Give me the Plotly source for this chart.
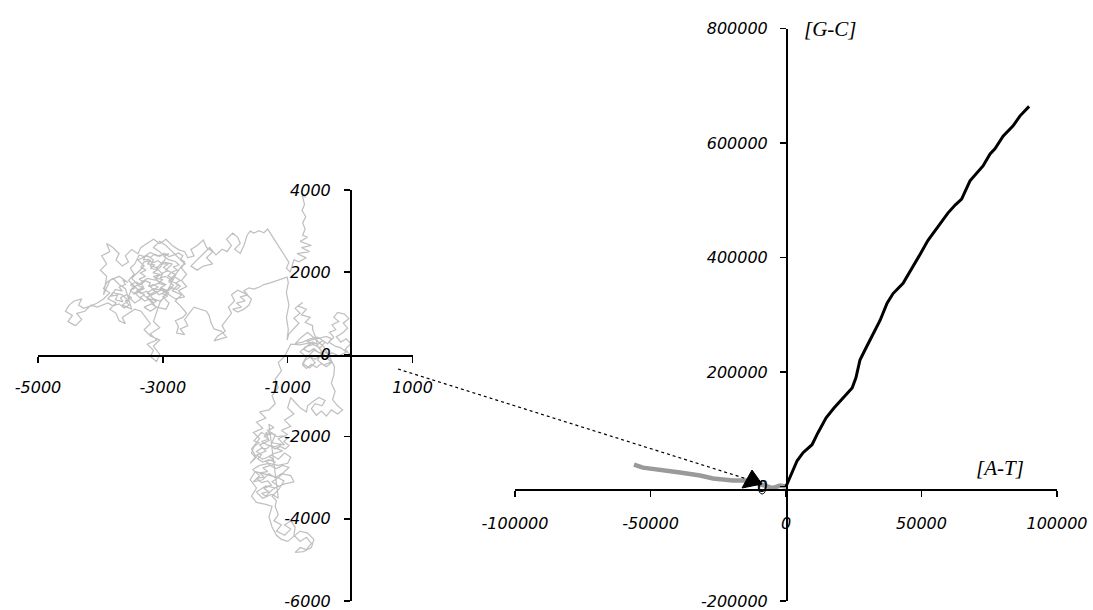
import plotly.graph_objects as go

# ---------------- data: left panel (zoomed DNA walk) ----------------
seg_origin = [(0,0),(-80,120),(10,260),(-60,380),(-150,300),(-220,430),(-120,520),(-40,640),(-110,760),(-20,870),
              (-90,980),(-200,1020),(-260,900),(-180,800),(-290,720),(-230,600),(-330,540),(-260,420),(-340,300),
              (-240,200),(-150,160),(-60,60),(-180,-40),(-290,40),(-390,-60),(-300,-180),(-420,-260),(-520,-140),
              (-460,20),(-580,100),(-660,-30),(-560,-200),(-650,-330),(-760,-220),(-700,-60),(-800,60),(-720,180),
              (-600,240),(-480,160),(-400,300),(-520,420),(-640,380),(-760,300),(-880,260),(-780,420),(-680,540),
              (-560,380),(-420,180),(-330,-60),(-250,-300)]
seg_down = [(-260,-500),(-300,-700),(-240,-900),(-280,-1100),(-200,-1250),(-120,-1350),(-200,-1450),(-300,-1350),
            (-380,-1500),(-460,-1380),(-540,-1480),(-620,-1320),(-560,-1200),(-450,-1250),(-400,-1120),(-500,-1050),
            (-600,-1150),(-680,-1250),(-700,-1400),(-800,-1300),(-860,-1200),(-950,-1050)]
seg_lower = [(-1000,-1300),(-900,-1450),(-1050,-1600),(-950,-1750),(-1100,-1850),(-1000,-1950),(-1150,-2050),
             (-1050,-2200),(-1250,-2150),(-1200,-1950),(-1350,-1900),(-1300,-2100),(-1450,-2200),(-1350,-2350),
             (-1500,-2450),(-1400,-2550),(-1250,-2450),(-1150,-2550),(-1050,-2400),(-950,-2500),(-1000,-2650),
             (-1150,-2700),(-1300,-2650),(-1450,-2700),(-1560,-2800),(-1450,-2950),(-1550,-3100),(-1400,-3050),
             (-1300,-2900),(-1200,-3000),(-1100,-2900),(-950,-2950),(-900,-3100),(-1050,-3150),(-1200,-3250),
             (-1350,-3200),(-1500,-3350),(-1400,-3500),(-1250,-3400),(-1150,-3500)]
seg_lower2 = [(-1300,-1700),(-1220,-1780),(-1330,-1850),(-1250,-1930),(-1380,-1990),(-1300,-2060),(-1420,-2120),
              (-1330,-2200),(-1200,-2250),(-1100,-2180),(-1160,-2300),(-1080,-2350),(-1200,-2400),(-1300,-2480),
              (-1220,-2560),(-1350,-2600),(-1280,-2700),(-1400,-2760),(-1320,-2850),(-1450,-2880),(-1380,-2980),
              (-1500,-3020),(-1420,-3120),(-1320,-3080),(-1260,-3180),(-1380,-3260),(-1300,-3340),(-1420,-3380),
              (-1350,-3450),(-1250,-3300),(-1150,-3200),(-1250,-3100),(-1150,-3000),(-1060,-3080),(-1140,-3280),
              (-1250,-3450),(-1180,-3560)]
seg_bottom = [(-1200,-3700),(-1150,-3900),(-1220,-4050),(-1100,-4150),(-1180,-4300),(-1050,-4400),(-950,-4250),
              (-1050,-4150),(-950,-4050),(-880,-4200),(-900,-4400),(-800,-4550),(-700,-4450),(-620,-4600),
              (-700,-4750),(-800,-4700),(-880,-4820),(-750,-4800),(-620,-4700),(-580,-4500),(-680,-4350),
              (-800,-4300),(-920,-4450),(-1000,-4550),(-1100,-4500),(-1180,-4400),(-1250,-4200),(-1300,-3950),
              (-1250,-3700),(-1350,-3650)]
seg_return_a = [(-1500,-3600),(-1580,-3450),(-1500,-3250),(-1600,-3050),(-1520,-2850)]
seg_lower3 = [(-1150,-3000),(-1050,-2850),(-980,-2750),(-1080,-2700),(-1180,-2780),(-1260,-2720),(-1200,-2620),
              (-1300,-2560),(-1400,-2620),(-1480,-2540),(-1420,-2440),(-1500,-2360),(-1420,-2280),(-1340,-2300),
              (-1280,-2220),(-1200,-2300),(-1120,-2240),(-1040,-2300),(-980,-2220),(-1060,-2120),(-1000,-2040),
              (-1080,-1980),(-1180,-2000),(-1260,-1900),(-1340,-1960),(-1420,-1900),(-1480,-2000),(-1540,-2100),
              (-1460,-2150),(-1540,-2250),(-1580,-2400),(-1520,-2500)]
seg_return_b = [(-1600,-2650),(-1500,-2500),(-1580,-2300),(-1450,-2050),(-1550,-1900),(-1400,-1800),(-1500,-1650),
                (-1350,-1550),(-1450,-1400),(-1300,-1350),(-1200,-1200),(-1250,-1000),(-1150,-800),(-1200,-600),
                (-1100,-400),(-1150,-200),(-1050,-50),(-1000,100),(-950,250),(-800,230),(-650,280),(-560,260),
                (-700,320)]
seg_origin2 = [(-380,440),(-300,380),(-360,260),(-440,340),(-520,240),(-600,300),(-680,220),(-740,120),(-660,60),
               (-580,140),(-500,40),(-420,80),(-340,-20),(-400,-120),(-480,-40),(-560,-120),(-640,-60),(-720,-140),
               (-760,-260),(-700,-340),(-620,-240),(-540,-320),(-460,-220),(-380,-300),(-300,-200),(-420,0),
               (-520,200),(-560,450),(-600,600)]
seg_o1 = [(-600,700),(-720,780),(-640,900),(-780,960),(-700,1100),(-840,1180),(-760,1260),(-880,1120),(-800,1000),
          (-900,880),(-820,760),(-900,640),(-980,500),(-1010,350)]
seg_vert = [(-990,600),(-1020,900),(-980,1200),(-1020,1500),(-990,1750),(-1010,1880)]
seg_c6 = [(-1100,1830),(-1200,1780),(-1280,1740),(-1380,1700),(-1450,1640),(-1540,1590),(-1620,1620),(-1700,1550),
          (-1640,1450),(-1760,1400),(-1680,1300),(-1820,1250),(-1740,1150),(-1880,1100),(-1800,1030),(-1700,1100),
          (-1620,1200),(-1580,1350),(-1680,1480),(-1800,1560),(-1900,1450),(-1850,1300),(-1950,1150),(-1900,1000)]
seg_mid = [(-1980,850),(-2050,700),(-2000,560),(-2120,450),(-2180,330),(-2080,380),(-1980,420),(-2060,560),
           (-2180,620),(-2230,780),(-2260,950),(-2300,1050),(-2400,1100),(-2500,1150),(-2580,1000),(-2650,850),
           (-2600,700),(-2720,620),(-2650,480),(-2780,520),(-2750,680),(-2800,820),(-2680,900),(-2620,1000)]
seg_dense = [(-2700,1150),(-2800,1300),(-2700,1450),(-2850,1550),(-2750,1700),(-2900,1800),(-2800,1950),(-2950,2050),
             (-2850,2200),(-3000,2250),(-3100,2100),(-3000,1950),(-3150,1900),(-3050,1750),(-3200,1650),(-3100,1500),
             (-3250,1400),(-3150,1250),(-3300,1150),(-3200,1050),(-3100,1150),(-2950,1100),(-2900,1250),(-3000,1400),
             (-2900,1500),(-3050,1600),(-2950,1700),(-3100,1800),(-3250,1850),(-3350,1750),(-3300,1600),(-3450,1500),
             (-3350,1350),(-3450,1250),(-3550,1400),(-3500,1600),(-3400,1700),(-3500,1850),(-3400,2000),(-3300,2150),
             (-3400,2300),(-3250,2400),(-3150,2300),(-3200,2150),(-3050,2100),(-2950,2350),(-3050,2500),(-3150,2600),
             (-3050,2750),(-2950,2650),(-2850,2500),(-2750,2350),(-2650,2250),(-2700,2100),(-2620,1950),(-2700,1800),
             (-2620,1650),(-2750,1550),(-2650,1400),(-2800,1350),(-2900,1450),(-3000,1550),(-3150,1600),(-3250,1500),
             (-3150,1350),(-3050,1300)]
seg_dense2 = [(-3000,1350),(-2920,1420),(-3010,1480),(-2930,1560),(-3040,1620),(-2960,1690),(-3080,1730),(-3000,1820),
              (-3120,1860),(-3040,1940),(-3160,1990),(-3080,2060),(-3200,2090),(-3130,2180),(-3250,2200),(-3190,2280),
              (-3300,2250),(-3350,2120),(-3270,2050),(-3360,1980),(-3280,1900),(-3380,1830),(-3300,1760),(-3400,1680),
              (-3320,1620),(-3420,1560),(-3350,1480),(-3260,1540),(-3200,1460),(-3120,1530),(-3060,1450),(-2980,1510),
              (-2900,1600),(-2830,1680),(-2900,1760),(-2840,1850),(-2920,1910),(-2860,2000),(-2770,2050),(-2830,2130),
              (-2740,2180),(-2800,2260),(-2900,2300),(-2980,2380),(-2900,2450),(-3000,2430),(-3100,2400),(-3200,2480),
              (-3300,2380),(-3380,2420),(-3450,2200),(-3520,2100),(-3460,1950),(-3550,1800),(-3480,1700),(-3300,1450),
              (-3200,1300),(-3100,1150)]
seg_dense3 = [(-3180,1230),(-3100,1300),(-3210,1350),(-3290,1300),(-3360,1390),(-3290,1450),(-3380,1520),
              (-3460,1470),(-3520,1560),(-3440,1620),(-3520,1690),(-3430,1760),(-3350,1700),(-3280,1790),(-3200,1740),
              (-3230,1650),(-3150,1700),(-3080,1640),(-3160,1560),(-3080,1520),(-3000,1600),(-2920,1540),(-2850,1620),
              (-2780,1580),(-2720,1660),(-2800,1730),(-2720,1800),(-2800,1880),(-2880,1830),(-2960,1900),(-3040,1860),
              (-3000,1980),(-2920,2040),(-2990,2120),(-2910,2200),(-3000,2200),(-3080,2280),(-3160,2230),(-3230,2310),
              (-3310,2300),(-3280,2400),(-3200,2360),(-3130,2440),(-3050,2380),(-2980,2460),(-2900,2380),(-2820,2420),
              (-2750,2470),(-2680,2400),(-2720,2300),(-2640,2200),(-2700,2150),(-2780,1980),(-2880,1700),(-2960,1450),
              (-3050,1250),(-3080,1100)]
seg_dip = [(-3100,1000),(-3150,800),(-3050,650),(-3200,500),(-3100,350),(-3250,250),(-3150,100),(-3200,-50),
           (-3100,-170),(-3050,0),(-3150,200),(-3050,350),(-3200,450),(-3300,600),(-3200,750),(-3280,900),(-3350,1050)]
seg_left = [(-3450,1100),(-3550,1000),(-3650,900),(-3600,750),(-3700,820),(-3750,1000),(-3850,1100),(-3750,1250),
            (-3880,1350),(-3800,1500),(-3650,1450),(-3550,1300),(-3650,1200),(-3500,1100),(-3600,1600),(-3700,1700),
            (-3800,1850),(-3900,1750),(-3950,1600),(-3850,1500),(-3950,1350),(-4050,1250)]
seg_far = [(-4150,1180),(-4270,1120),(-4350,1200),(-4300,1350),(-4420,1300),(-4500,1200),(-4560,1050),(-4450,950),
           (-4520,800),(-4400,700),(-4300,850),(-4380,1000),(-4250,1050),(-4150,1200),(-4050,1150)]
seg_left2 = [(-3880,1250),(-3800,1180),(-3700,1230),(-3620,1130),(-3540,1200),(-3600,1300),(-3500,1380),(-3580,1450),
             (-3680,1380),(-3640,1280),(-3760,1330),(-3720,1450),(-3830,1420),(-3760,1580),(-3650,1540),(-3700,1640),
             (-3600,1700),(-3640,1820),(-3560,1750),(-3700,1900),(-3850,1800),(-3950,1450)]
seg_upleft = [(-3900,1900),(-4000,2050),(-3900,2200),(-3980,2400),(-3850,2500),(-3900,2700),(-3800,2600),
              (-3700,2450),(-3750,2300),(-3650,2150),(-3550,2250),(-3600,2400),(-3500,2550),(-3400,2450),(-3350,2600),
              (-3250,2700),(-3150,2800),(-3050,2700),(-2950,2800),(-2850,2650),(-2750,2550),(-2650,2500),(-2600,2350)]
seg_c3 = [(-2500,2400),(-2550,2550),(-2450,2650),(-2350,2780),(-2300,2600),(-2200,2500),(-2300,2350),(-2200,2200),
          (-2350,2150),(-2450,2050),(-2550,2150),(-2450,2300),(-2350,2450),(-2250,2600),(-2150,2420),(-2050,2560),
          (-1970,2500),(-1900,2650),(-1980,2800),(-1880,2950),(-1800,2850),(-1760,2700),(-1850,2560),(-1760,2460),
          (-1700,2650),(-1650,2900)]
seg_arc = [(-1600,3000),(-1540,2950),(-1460,3010),(-1380,2960),(-1320,3050),(-1270,2930),(-1190,2720),(-1110,2520),
           (-1040,2360),(-980,2240),(-1020,2100),(-960,2000)]
seg_c1 = [(-900,2300),(-820,2250),(-700,2350),(-850,2450),(-650,2500),(-780,2600),(-620,2650),(-800,2750),
          (-680,2850),(-760,2900)]
seg_top = [(-720,3050),(-760,3200),(-710,3350),(-770,3500),(-730,3650),(-760,3800),(-770,3890),(-710,3820)]

left_segments = [seg_origin, seg_down, seg_lower, seg_lower2, seg_bottom, seg_return_a, seg_lower3, seg_return_b,
                 seg_origin2, seg_o1, seg_vert, seg_c6, seg_mid, seg_dense, seg_dense2, seg_dense3, seg_dip,
                 seg_left, seg_far, seg_left2, seg_upleft, seg_c3, seg_arc, seg_c1, seg_top]

# ---------------- data: right panel ----------------
gc_at_x = [0, 1800, 4100, 6300, 9600, 11800, 14800, 17700, 21000, 24400, 25800, 27300, 29500, 31700, 34700, 37300,
           39500, 43200, 46500, 49400, 52400, 56100, 59800, 62500, 64800, 67900, 70500, 72700, 75300, 77100, 80100,
           83800, 86300, 89700]
gc_gc_y = [0, 19000, 45000, 59000, 73000, 94000, 120000, 137000, 155000, 172000, 190000, 221000, 242000, 263000,
           290000, 320000, 337000, 355000, 381000, 405000, 430000, 455000, 478000, 492000, 502000, 534000, 548000,
           560000, 581000, 590000, 612000, 630000, 647000, 664000]
gray_at_x = [0, -2200, -5000, -8500, -11000, -14400, -19600, -26900, -31700, -39100, -45400, -52800, -56100]
gray_gc_y = [0, 1700, -3000, 3500, 6500, 10400, 10400, 13900, 19100, 24300, 27800, 33000, 38300]

left_xticks = [-5000, -3000, -1000, 1000]
left_xtext = ["-5000", "-3000", "-1000", "1000"]
left_yticks = [4000, 2000, 0, -2000, -4000, -6000]
left_ytext = ["4000", "2000", "0", "-2000", "-4000", "-6000"]
right_xticks = [-100000, -50000, 0, 50000, 100000]
right_xtext = ["-100000", "-50000", "0", "50000", "100000"]
right_yticks = [800000, 600000, 400000, 200000, 0, -200000]
right_ytext = ["800000", "600000", "400000", "200000", "0", "-200000"]

# ---------------- figure ----------------
W, H = 1093, 610


def px(x):
    return x / W


def py(y):
    return 1 - y / H


lx, ly = [], []
for seg in left_segments:
    for (a, b) in seg:
        lx.append(a)
        ly.append(b)

fig = go.Figure()
fig.add_trace(go.Scatter(x=lx, y=ly, mode="lines", line=dict(color="#c0c0c0", width=1.25),
                         xaxis="x", yaxis="y", hoverinfo="skip"))
fig.add_trace(go.Scatter(x=gray_at_x, y=gray_gc_y, mode="lines", line=dict(color="#9a9a9a", width=4.5),
                         xaxis="x2", yaxis="y2"))
fig.add_trace(go.Scatter(x=gc_at_x, y=gc_gc_y, mode="lines", line=dict(color="black", width=3),
                         xaxis="x2", yaxis="y2"))

tickfont = dict(family="DejaVu Sans", size=16, style="italic", color="black")
common = dict(showgrid=False, zeroline=False, showline=True, linecolor="black", linewidth=1.5,
              ticks="outside", ticklen=6, tickwidth=1.5, tickcolor="black", tickfont=tickfont,
              tickmode="array", anchor="free", fixedrange=True, ticklabeloverflow="allow")

fig.update_layout(
    width=W, height=H, margin=dict(l=0, r=0, t=0, b=0),
    paper_bgcolor="white", plot_bgcolor="white", showlegend=False, template="none",
    xaxis=dict(common, domain=[px(38), px(412.5)], range=[-5000, 1000], position=py(355),
               tickvals=left_xticks, ticktext=left_xtext, ticklabelstandoff=11),
    yaxis=dict(common, domain=[py(601), py(190)], range=[-6000, 4000], position=px(350),
               tickvals=left_yticks, ticktext=left_ytext, ticklabelstandoff=10),
    xaxis2=dict(common, domain=[px(515), px(1057)], range=[-100000, 100000], position=py(489),
                tickvals=right_xticks, ticktext=right_xtext, ticklabelstandoff=13),
    yaxis2=dict(common, domain=[py(601), py(28.5)], range=[-200000, 800000], position=px(786),
                tickvals=right_yticks, ticktext=right_ytext, ticklabelstandoff=9),
)

labfont = dict(family="Liberation Serif", size=21, style="italic", color="black")
fig.add_annotation(x=px(802), y=py(29), xref="paper", yref="paper", text="[G-C]", showarrow=False,
                   xanchor="left", yanchor="middle", font=labfont)
fig.add_annotation(x=px(974), y=py(468), xref="paper", yref="paper", text="[A-T]", showarrow=False,
                   xanchor="left", yanchor="middle", font=labfont)

# dotted connector with arrowhead and small ellipse
fig.add_shape(type="line", xref="paper", yref="paper", x0=px(398), y0=py(369), x1=px(747), y1=py(479),
              line=dict(color="black", width=1.2, dash="dot"))
fig.add_shape(type="path", xref="paper", yref="paper",
              path=f"M {px(742)},{py(488)} L {px(752)},{py(470)} L {px(762)},{py(484)} Z",
              fillcolor="black", line=dict(color="black", width=1))
fig.add_shape(type="circle", xref="paper", yref="paper", x0=px(758.3), x1=px(766), y0=py(494), y1=py(480.5),
              line=dict(color="black", width=1))

fig.write_html("out.html", config={"displayModeBar": False, "staticPlot": True},
               post_script="document.body.style.margin='0';document.body.style.overflow='hidden';")
